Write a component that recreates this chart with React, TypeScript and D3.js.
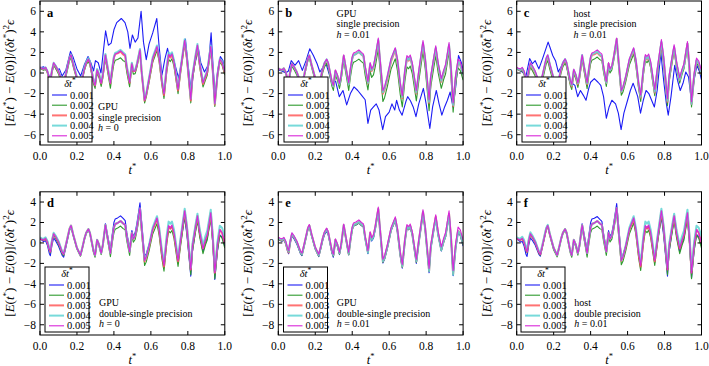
import React from "react";
import * as d3 from "d3";

// ---------- data ----------
const seriesLabels = ["0.001", "0.002", "0.003", "0.004", "0.005"];
const xTicks = [0, 0.2, 0.4, 0.6, 0.8, 1.0];
const yTicksTop = [-6, -4, -2, 0, 2, 4, 6];
const yTicksBottom = [-8, -6, -4, -2, 0, 2, 4];

// consensus curve shared by all runs (t*, value)
const baseCurve: [number, number][] = [
  [0, 0.45], [0.01, 0.35], [0.02, 0.3], [0.03, 0.45], [0.04, 0.1], [0.05, -0.6], [0.056, -0.85],
  [0.065, 0.2], [0.074, 0.9], [0.085, 0.6], [0.1, 0.1], [0.11, -0.4], [0.12, -0.9], [0.128, -1.1],
  [0.14, -0.2], [0.15, 0.6], [0.16, 1.4], [0.168, 1.7], [0.18, 0.8], [0.2, -0.5], [0.219, -1.2],
  [0.23, -0.4], [0.24, 0.4], [0.25, 1.0], [0.262, 1.35], [0.27, 1.0], [0.28, 0.1], [0.29, -0.8],
  [0.298, -1.2], [0.309, 0.3], [0.32, -0.2], [0.331, -1.0], [0.34, -0.2], [0.354, 1.75], [0.365, 0.6],
  [0.381, -1.0], [0.39, 0.3], [0.4, 1.5], [0.407, 1.85], [0.42, 1.95], [0.436, 2.15], [0.45, 1.9],
  [0.461, 1.75], [0.47, 0.6], [0.485, -0.85], [0.497, 1.0], [0.505, 0.4], [0.515, 0.7], [0.525, 1.6],
  [0.541, 3.4], [0.55, 1.5], [0.566, -1.7], [0.575, -1.35], [0.59, -0.3], [0.61, 1.4], [0.633, 2.45],
  [0.645, 1.3], [0.66, -1.0], [0.671, -2.2], [0.685, 0.3], [0.696, 1.7], [0.705, 1.5], [0.714, 1.75],
  [0.725, 1.0], [0.747, -1.7], [0.76, 0.2], [0.783, 3.15], [0.795, 1.5], [0.816, -2.6], [0.825, -0.3],
  [0.84, 1.4], [0.852, 2.65], [0.865, 1.0], [0.882, -0.55], [0.895, 0.3], [0.905, 0.8], [0.924, 2.95],
  [0.935, 0.5], [0.946, -2.9], [0.96, -0.2], [0.973, 1.3], [0.985, 1.0], [1.0, 0.0],
];

// knots (t*) at which per-run deviations from the consensus curve were read
const knotT = [0, 0.05, 0.1, 0.15, 0.2, 0.25, 0.3, 0.35, 0.4, 0.45, 0.5, 0.55, 0.6, 0.65, 0.7, 0.75, 0.8, 0.85, 0.9, 0.95, 1.0];

// explicit dt*=0.001 curves for the single-precision runs
const blueA: [number, number][] = [
  [0, 0.5], [0.02, 0.6], [0.04, 0.1], [0.055, -0.5], [0.075, 0.8], [0.09, 0.3], [0.105, 0.4], [0.12, -0.3],
  [0.14, 0.3], [0.165, 2.1], [0.18, 1.5], [0.2, 0.4], [0.22, -0.3], [0.24, 0.8], [0.26, 1.6], [0.275, 1.0],
  [0.29, 0.2], [0.3, 1.2], [0.315, 1.0], [0.33, 0.0], [0.355, 4.1], [0.37, 2.7], [0.385, 2.9], [0.4, 4.2],
  [0.415, 4.9], [0.44, 5.3], [0.46, 4.9], [0.475, 4.0], [0.487, 2.4], [0.5, 3.7], [0.515, 3.0], [0.53, 3.4],
  [0.547, 6.0], [0.56, 3.0], [0.575, 1.3], [0.59, 2.8], [0.61, 3.9], [0.632, 5.3], [0.645, 2.5], [0.66, -0.2],
  [0.675, 1.3], [0.69, 2.4], [0.7, 1.6], [0.715, 1.9], [0.735, 0.5], [0.75, -0.5], [0.765, 1.0], [0.787, 3.3],
  [0.8, 1.0], [0.818, -1.8], [0.835, 0.6], [0.857, 2.4], [0.87, 1.0], [0.89, 0.1], [0.905, 0.6], [0.912, 0.9],
  [0.926, 3.9], [0.937, 0.5], [0.948, -2.2], [0.962, 0.3], [0.976, 1.6], [0.99, 1.2], [1.0, 0.0],
];
const blueB: [number, number][] = [
  [0, 0.3], [0.02, 0.2], [0.04, 0.0], [0.055, 0.2], [0.07, 1.2], [0.09, 0.75], [0.11, 1.2], [0.13, 0.25],
  [0.15, 1.2], [0.17, 2.35], [0.19, 1.7], [0.21, 0.9], [0.225, 0.1], [0.24, 0.5], [0.255, 1.1], [0.27, 0.2],
  [0.29, -1.0], [0.31, -0.8], [0.33, -2.3], [0.35, -1.7], [0.37, -3.1], [0.39, -2.0], [0.41, -1.35],
  [0.43, -1.7], [0.45, -2.15], [0.47, -2.6], [0.485, -4.9], [0.5, -3.6], [0.515, -3.3], [0.53, -3.0],
  [0.545, -3.6], [0.565, -5.5], [0.58, -4.25], [0.6, -3.8], [0.615, -3.0], [0.63, -3.6], [0.64, -2.65],
  [0.655, -3.6], [0.67, -4.1], [0.69, -2.8], [0.7, -2.3], [0.715, -2.7], [0.73, -3.3], [0.745, -4.25],
  [0.76, -3.0], [0.785, -1.5], [0.8, -3.0], [0.82, -5.4], [0.835, -3.3], [0.855, -1.7], [0.87, -3.0],
  [0.885, -4.1], [0.9, -3.3], [0.915, -2.65], [0.93, -1.85], [0.945, -3.3], [0.96, -1.35], [0.975, 1.7],
  [0.99, 1.05], [1.0, 0.25],
];
const blueC: [number, number][] = [
  [0, 0.4], [0.03, 0.1], [0.05, -0.3], [0.07, 1.4], [0.085, 0.9], [0.1, 1.2], [0.12, 0.4], [0.14, 1.4],
  [0.155, 2.2], [0.17, 3.0], [0.18, 2.5], [0.195, 1.7], [0.21, 1.2], [0.225, 0.1], [0.24, 0.6], [0.255, 1.2],
  [0.27, 0.75], [0.285, -0.7], [0.3, -1.0], [0.315, -1.2], [0.33, -2.3], [0.345, -1.7], [0.36, -2.15],
  [0.375, -2.65], [0.39, -1.5], [0.4, -0.9], [0.42, -0.55], [0.44, -0.9], [0.455, -1.2], [0.47, -2.3],
  [0.485, -4.4], [0.5, -3.3], [0.515, -2.65], [0.535, -3.0], [0.55, -3.9], [0.565, -5.5], [0.58, -3.9],
  [0.6, -2.65], [0.615, -1.7], [0.63, -1.0], [0.64, -1.5], [0.655, -2.3], [0.67, -3.9], [0.685, -2.65],
  [0.7, -1.7], [0.715, -2.0], [0.73, -2.65], [0.745, -3.3], [0.76, -1.7], [0.78, 2.0], [0.795, -0.7],
  [0.81, -3.0], [0.82, -4.1], [0.835, -2.3], [0.855, 0.75], [0.87, -0.7], [0.885, -1.7], [0.9, -1.0],
  [0.915, 0.1], [0.93, -0.4], [0.945, -2.65], [0.96, -0.7], [0.975, 0.75], [0.99, 0.1], [1.0, -0.7],
];

// deviations from the consensus curve at knotT, one array per run
const aGreen = [0, -0.1, -0.2, -0.2, -0.2, -0.2, -0.3, -0.3, -0.6, -0.7, -0.4, -1.6, -0.4, -0.2, -0.4, -0.3, -0.3, -0.3, -1.1, -0.3, -0.2];
const aRed = [0.1, 0, 0, 0.1, 0, 0, 0, 0, 0, -0.1, -0.1, -1.4, -0.1, 0.1, 0, 0, -0.1, 0, -0.8, -0.1, 0];
const aCyan = [0.1, 0.1, 0.1, 0.1, 0.1, 0.1, 0.1, 0.1, 0.1, 0.1, 0, -1.3, 0.1, 0.3, 0.3, 0.2, 0.1, 0.2, -0.6, 0, 0.2];
const aMagenta = [0.1, 0.1, 0.1, 0.1, 0, 0, 0, 0, 0, 0, -0.1, -1.4, 0, 0.2, 0.1, 0.1, 0, 0.1, -0.7, 0, 0.1];

const bGreen = [0, -0.2, -0.3, -0.2, -0.3, -0.4, -0.5, -0.5, -0.8, -0.8, -0.8, -1.1, -1.0, -1.1, -1.1, -1.0, -1.1, -1.0, -0.9, -0.9, -0.7];
const bRed = [0, 0, 0, 0, 0, -0.1, -0.1, -0.1, -0.1, -0.1, -0.2, -0.3, -0.3, -0.2, -0.3, -0.3, -0.3, -0.3, -0.3, -0.3, -0.2];
const bCyan = [0, 0, 0, 0, 0, 0, -0.1, -0.1, -0.1, -0.1, -0.1, -0.2, -0.1, -0.1, -0.2, -0.2, -0.2, -0.2, -0.2, -0.2, -0.2];
const bMagenta = [0, 0, 0, 0, 0, 0, 0, 0, 0.1, 0.1, 0, 0, 0, 0, 0, 0, 0, 0, 0, 0, 0.1];

const cGreen = [0, -0.3, -0.4, -0.5, -0.5, -0.4, -0.4, -0.4, -0.6, -0.6, -0.4, -0.4, -0.6, -0.6, -0.5, -0.5, -0.6, -0.5, -0.4, -0.4, -0.3];
const cRed = [0, -0.1, -0.1, -0.1, -0.1, -0.1, -0.1, -0.1, -0.1, -0.2, -0.1, -0.1, -0.2, -0.2, -0.2, -0.2, -0.2, -0.2, -0.1, -0.1, -0.1];
const cCyan = [0, 0, 0, 0, 0, 0, 0, 0, 0, -0.1, -0.1, -0.1, -0.1, -0.1, -0.1, -0.1, -0.1, -0.1, -0.1, -0.1, 0];
const cMagenta = [0.1, 0.1, 0.1, 0.1, 0, 0, 0.1, 0, 0.1, 0.1, 0, 0, 0, 0, 0.1, 0.1, 0.1, 0.1, 0.1, 0.1, 0.2];

const dBlue = [0, -0.4, -0.4, -0.2, 0, 0, 0, 0.1, 0.5, 0.5, 0.2, 0.6, 0, -0.2, -0.1, -0.2, -0.8, -0.3, -0.3, -0.7, -0.3];
const dGreen = [0, -0.1, -0.2, -0.1, -0.1, -0.1, -0.2, -0.1, -0.5, -0.5, -0.3, -0.5, -0.5, -0.6, -0.5, -0.6, -0.5, -0.5, -0.5, -0.6, -0.5];
const dRed = [0, 0, 0, 0, 0, 0, 0, 0, 0, 0, 0, -0.1, -0.1, -0.1, -0.1, -0.1, 0, 0, 0, 0, 0];
const dCyan = [0.1, 0.1, 0.1, 0, 0, 0, 0, 0, 0, 0, 0, 0, 0.1, 0.2, 0.4, 0.2, 0.2, 0.2, 0.4, 0.2, 0.6];
const dMagenta = [0, 0, 0, 0, 0, 0, 0, 0, 0, 0, 0, 0, 0, 0, 0, 0, 0, 0, 0, 0, 0];

const eBlue = [-0.1, -0.2, -0.2, -0.1, -0.1, -0.2, -0.2, -0.1, -0.2, -0.2, -0.2, -0.3, -0.2, -0.3, -0.2, -0.3, -0.3, -0.3, -0.2, -0.3, -0.3];
const eGreen = [-0.1, -0.1, -0.1, -0.1, -0.1, -0.1, -0.1, -0.1, -0.2, -0.2, -0.1, -0.2, -0.2, -0.2, -0.2, -0.2, -0.2, -0.2, -0.2, -0.2, -0.2];
const eRed = [0, -0.1, 0, 0, 0, 0, 0, 0, -0.1, -0.1, 0, -0.1, -0.1, -0.1, -0.1, -0.1, -0.1, -0.1, -0.1, -0.1, -0.1];
const eCyan = [0, 0, 0, 0, 0, 0, 0, 0, -0.1, -0.1, -0.1, -0.1, -0.1, -0.1, -0.1, -0.1, -0.1, -0.2, -0.1, -0.2, -0.1];
const eMagenta = [0.1, 0.1, 0.1, 0.1, 0.1, 0.1, 0.1, 0.1, 0.1, 0.1, 0.1, 0.1, 0.1, 0.1, 0.1, 0.1, 0.1, 0.1, 0.2, 0.2, 0.3];

const fBlue = [0, -0.5, -0.3, -0.1, 0, 0, 0, 0.1, 0.5, 0.4, 0.2, 0.5, -0.1, -0.1, -0.1, -0.2, -0.8, -0.3, -0.3, -0.6, -0.3];
const fGreen = [0, -0.1, -0.1, -0.1, -0.2, -0.1, -0.2, -0.2, -0.5, -0.5, -0.3, -0.4, -0.5, -0.5, -0.5, -0.5, -0.5, -0.5, -0.5, -0.6, -0.5];
const fRed = [0, 0, 0, 0, 0, 0, 0, 0, 0, 0, 0, 0, -0.1, -0.1, -0.1, -0.1, 0, 0, 0, 0, 0];
const fCyan = [0.1, 0.2, 0.1, 0.1, 0, 0, 0, 0, 0, 0, 0, 0, 0.1, 0.2, 0.4, 0.2, 0.2, 0.2, 0.4, 0.2, 0.6];
const fMagenta = [0, 0, 0, 0, 0, 0, 0, 0, 0, 0, 0, 0, 0, 0, 0, 0, 0, 0, 0, 0, 0];

// ---------- styles ----------
const COLORS = ["#1c1cf5", "#2e9a2e", "#ff5b5b", "#5fd3d3", "#d926d9"];
const WIDTHS = [1.1, 1.1, 2.0, 2.0, 1.1];
const FONT = "Liberation Serif, Times, serif";

type Run = [number, number][] | number[];

interface PanelSpec {
  letter: string;
  col: number;
  row: number;
  runs: Run[];
  notes: string[];
  hValue: string;
  noteX: number;
  noteY: number[];
  legendX: number;
}

const panels: PanelSpec[] = [
  { letter: "a", col: 0, row: 0, runs: [blueA, aGreen, aRed, aCyan, aMagenta], notes: ["GPU", "single precision"], hValue: "0", noteX: 98, noteY: [110, 120.5, 131], legendX: 48 },
  { letter: "b", col: 1, row: 0, runs: [blueB, bGreen, bRed, bCyan, bMagenta], notes: ["GPU", "single precision"], hValue: "0.01", noteX: 336.5, noteY: [16.7, 27.2, 37.7], legendX: 284 },
  { letter: "c", col: 2, row: 0, runs: [blueC, cGreen, cRed, cCyan, cMagenta], notes: ["host", "single precision"], hValue: "0.01", noteX: 573.5, noteY: [16.7, 27.2, 37.7], legendX: 522 },
  { letter: "d", col: 0, row: 1, runs: [dBlue, dGreen, dRed, dCyan, dMagenta], notes: ["GPU", "double-single precision"], hValue: "0", noteX: 99, noteY: [306, 316.7, 327.3], legendX: 45 },
  { letter: "e", col: 1, row: 1, runs: [eBlue, eGreen, eRed, eCyan, eMagenta], notes: ["GPU", "double-single precision"], hValue: "0.01", noteX: 336.7, noteY: [306, 316.7, 327.3], legendX: 283.5 },
  { letter: "f", col: 2, row: 1, runs: [fBlue, fGreen, fRed, fCyan, fMagenta], notes: ["host", "double precision"], hValue: "0.01", noteX: 574.3, noteY: [306, 316.7, 327.3], legendX: 521 },
];

const COL_X = [40, 278.3, 516.7];
const PLOT_W = 184.8;
const ROW_Y = [1, 191.8];
const ROW_BOTTOM = [145, 335];
const ROW_DOMAIN: [number, number][] = [[-7, 7], [-9, 5]];

function runPoints(run: Run): [number, number][] {
  if (Array.isArray(run[0])) return run as [number, number][];
  const dev = d3.scaleLinear().domain(knotT).range(run as number[]);
  return baseCurve.map(([t, v]) => [t, v + dev(t)] as [number, number]);
}

function YLabel({ x, y }: { x: number; y: number }) {
  return (
    <text transform={`translate(${x},${y}) rotate(-90)`} textAnchor="middle" fontFamily={FONT} fontSize={13}>
      [<tspan fontStyle="italic">E</tspan>(<tspan fontStyle="italic">t</tspan>
      <tspan fontSize={9} dy={-5}>*</tspan>
      <tspan dy={5}>) − </tspan>
      <tspan fontStyle="italic">E</tspan>(0)]/(<tspan fontStyle="italic">δt</tspan>
      <tspan fontSize={9} dy={-5}>*</tspan>
      <tspan dy={5}>)</tspan>
      <tspan fontSize={9} dy={-5}>2</tspan>
      <tspan dy={5} fontStyle="italic">ϵ</tspan>
    </text>
  );
}

function Panel({ p }: { p: PanelSpec }) {
  const x0 = COL_X[p.col];
  const x1 = x0 + PLOT_W;
  const y0 = ROW_Y[p.row];
  const y1 = ROW_BOTTOM[p.row];
  const xs = d3.scaleLinear().domain([0, 1]).range([x0, x1]);
  const ys = d3.scaleLinear().domain(ROW_DOMAIN[p.row]).range([y1, y0]);
  const line = d3.line<[number, number]>().x((d) => xs(d[0])).y((d) => ys(d[1]));
  const yTicks = p.row === 0 ? yTicksTop : yTicksBottom;
  const clipId = `clip-${p.letter}`;
  const legTop = y1 - 68;
  const legW = 44;
  const legH = 65;
  const lx = p.legendX;
  return (
    <g>
      <defs>
        <clipPath id={clipId}>
          <rect x={x0} y={y0} width={x1 - x0} height={y1 - y0} />
        </clipPath>
      </defs>
      <g clipPath={`url(#${clipId})`}>
        {p.runs.map((r, i) => (
          <path key={i} d={line(runPoints(r)) || ""} fill="none" stroke={COLORS[i]} strokeWidth={WIDTHS[i]}
            strokeOpacity={i === 2 || i === 3 ? 0.85 : 1} strokeLinejoin="round" />
        ))}
      </g>
      <rect x={x0} y={y0} width={x1 - x0} height={y1 - y0} fill="none" stroke="#000" strokeWidth={1} />
      {xTicks.map((t) => (
        <g key={t}>
          <line x1={xs(t)} x2={xs(t)} y1={y1} y2={y1 - 4} stroke="#000" />
          <line x1={xs(t)} x2={xs(t)} y1={y0} y2={y0 + 4} stroke="#000" />
          <text x={xs(t)} y={y1 + 14.5} textAnchor="middle" fontFamily={FONT} fontSize={11.5}>{t.toFixed(1)}</text>
        </g>
      ))}
      {yTicks.map((v) => (
        <g key={v}>
          <line x1={x0} x2={x0 + 4} y1={ys(v)} y2={ys(v)} stroke="#000" />
          <line x1={x1} x2={x1 - 4} y1={ys(v)} y2={ys(v)} stroke="#000" />
          <text x={x0 - 4} y={ys(v) + 3.8} textAnchor="end" fontFamily={FONT} fontSize={11.5}>{v < 0 ? `−${-v}` : `${v}`}</text>
        </g>
      ))}
      <text x={(x0 + x1) / 2} y={y1 + 29} textAnchor="middle" fontFamily={FONT} fontSize={12.5}>
        <tspan fontStyle="italic">t</tspan>
        <tspan fontSize={8.5} dy={-5}>*</tspan>
      </text>
      <YLabel x={x0 - 26} y={(y0 + y1) / 2} />
      <text x={x0 + 7} y={y0 + 15.5} fontFamily={FONT} fontSize={12.5} fontWeight="bold">{p.letter}</text>
      {p.notes.map((n, i) => (
        <text key={i} x={p.noteX} y={p.noteY[i]} fontFamily={FONT} fontSize={10}>{n}</text>
      ))}
      <text x={p.noteX} y={p.noteY[2]} fontFamily={FONT} fontSize={10}>
        <tspan fontStyle="italic">h</tspan> = {p.hValue}
      </text>
      <g>
        <rect x={lx} y={legTop} width={legW} height={legH} fill="#fff" stroke="#000" strokeWidth={1} />
        <text x={lx + legW / 2} y={legTop + 10} textAnchor="middle" fontFamily={FONT} fontSize={10.5}>
          <tspan fontStyle="italic">δt</tspan>
          <tspan fontSize={7.5} dy={-4}>*</tspan>
        </text>
        {seriesLabels.map((s, i) => {
          const yy = legTop + 18 + i * 10.2;
          return (
            <g key={s}>
              <line x1={lx + 4} x2={lx + 19} y1={yy} y2={yy} stroke={COLORS[i]} strokeWidth={WIDTHS[i]} strokeOpacity={i === 2 || i === 3 ? 0.85 : 1} />
              <text x={lx + 22} y={yy + 3.5} fontFamily={FONT} fontSize={10.5}>{s}</text>
            </g>
          );
        })}
      </g>
    </g>
  );
}

export default function App() {
  return (
    <svg width={709} height={366} viewBox="0 0 709 366" style={{ display: "block", position: "absolute", left: 0, top: 0, background: "#fff" }}>
      <rect width={709} height={366} fill="#fff" />
      {panels.map((p) => (
        <Panel key={p.letter} p={p} />
      ))}
    </svg>
  );
}
